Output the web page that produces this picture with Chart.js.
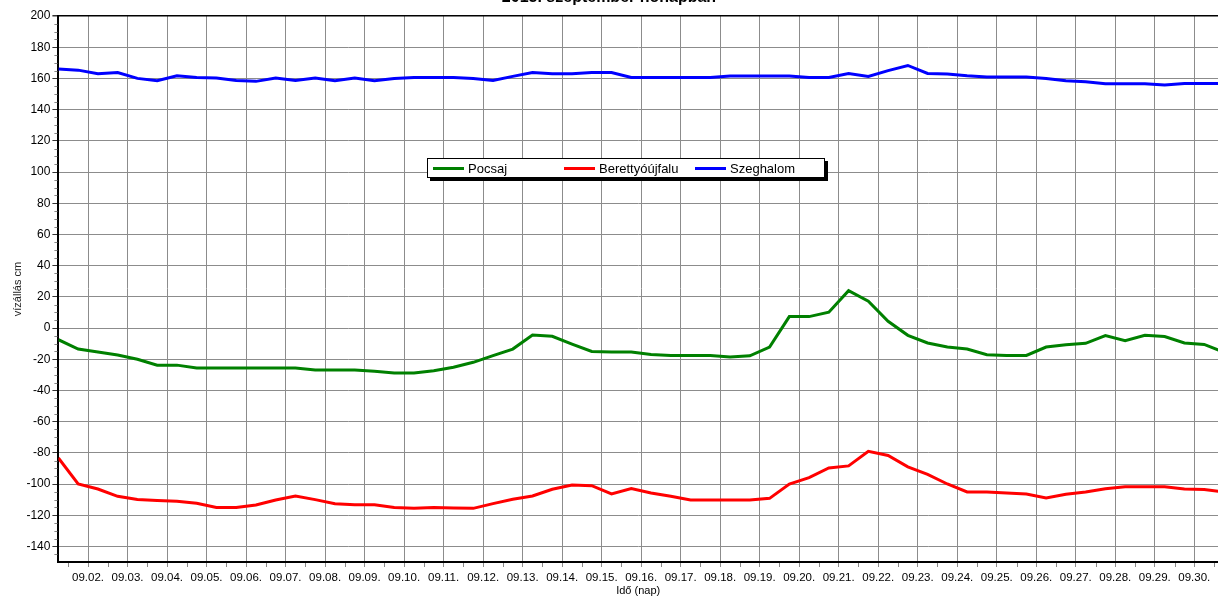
<!DOCTYPE html>
<html><head><meta charset="utf-8">
<script src="https://cdn.jsdelivr.net/npm/chart.js@4/dist/chart.umd.min.js"></script>
<style>
html,body{margin:0;padding:0;background:#fff;}
#wrap{position:relative;width:1218px;height:599px;overflow:hidden;}
#legend{position:absolute;left:427px;top:158px;width:396px;height:18px;border:1px solid #000;background:#fff;box-shadow:3px 3px 0 #000;font:13px "Liberation Sans",Arial,sans-serif;color:#000;display:flex;align-items:center;}
.item{width:131px;display:flex;align-items:center;white-space:nowrap;}
.swatch{width:31px;height:3px;margin-left:5px;margin-right:4px;}
</style></head>
<body>
<div id="wrap"><canvas id="c" width="1218" height="599"></canvas><div id="legend"></div></div>
<script>
// time of each reading, in days of September (06:00 and 18:00)
const times = [1.25,1.75,2.25,2.75,3.25,3.75,4.25,4.75,5.25,5.75,6.25,6.75,7.25,7.75,8.25,8.75,9.25,9.75,10.25,10.75,
  11.25,11.75,12.25,12.75,13.25,13.75,14.25,14.75,15.25,15.75,16.25,16.75,17.25,17.75,18.25,18.75,19.25,19.75,20.25,20.75,
  21.25,21.75,22.25,22.75,23.25,23.75,24.25,24.75,25.25,25.75,26.25,26.75,27.25,27.75,28.25,28.75,29.25,29.75,30.25,30.75];

const pocsaj = [-7.5,-13.5,-15.4,-17.3,-20,-23.8,-23.8,-25.6,-25.6,-25.6,-25.6,-25.6,-25.6,-26.9,-26.9,-27,-27.8,-28.8,-28.8,-27.4,
  -25.2,-22,-17.7,-13.5,-4.5,-5.3,-10.3,-15,-15.4,-15.4,-17,-17.6,-17.6,-17.6,-18.6,-17.8,-12.2,7.3,7.3,10.1,
  23.9,17.2,4.3,-4.7,-9.6,-12.2,-13.5,-17.1,-17.6,-17.6,-12.2,-10.7,-9.8,-4.9,-8.1,-4.7,-5.5,-9.6,-10.5,-15.5];

const berettyoujfalu = [-83.3,-100,-103.2,-107.9,-110,-110.5,-111.1,-112.4,-115,-115,-113.5,-110.3,-107.7,-110,-112.6,-113.3,-113.3,-115,-115.6,-115,
  -115.4,-115.6,-112.6,-109.8,-107.7,-103.4,-100.7,-101.1,-106.4,-102.9,-105.8,-107.9,-110.3,-110.3,-110.3,-110.3,-109.2,-100,-95.9,-89.7,
  -88.4,-79,-81.7,-89,-93.8,-100,-105.1,-105.1,-105.8,-106.4,-109,-106.6,-105.1,-103,-101.7,-101.7,-101.7,-103.2,-103.6,-105];

const szeghalom = [166,165.3,163,163.8,160,158.5,161.7,160.6,160.2,158.7,158.1,160.2,158.7,160.2,158.5,160.2,158.5,160,160.6,160.6,
  160.6,160,158.7,161.3,163.8,163,163,163.8,163.8,160.6,160.6,160.6,160.6,160.6,161.5,161.5,161.5,161.5,160.6,160.6,
  163.2,161.3,165,168.3,163.2,162.8,161.7,160.9,160.9,160.9,160,158.5,157.9,156.6,156.6,156.6,155.7,156.8,156.8,156.8];

const seriesNames = ['Pocsaj','Berettyóújfalu','Szeghalom'];
const seriesColors = ['#008000','#ff0000','#0000ff'];

const xTickDays = [2,3,4,5,6,7,8,9,10,11,12,13,14,15,16,17,18,19,20,21,22,23,24,25,26,27,28,29,30];
const xTickLabels = ['09.02.','09.03.','09.04.','09.05.','09.06.','09.07.','09.08.','09.09.','09.10.','09.11.','09.12.','09.13.','09.14.','09.15.',
  '09.16.','09.17.','09.18.','09.19.','09.20.','09.21.','09.22.','09.23.','09.24.','09.25.','09.26.','09.27.','09.28.','09.29.','09.30.'];
const yTicks = [-140,-120,-100,-80,-60,-40,-20,0,20,40,60,80,100,120,140,160,180,200];

const titleText = '2015. szeptember hónapban';
const xTitle = 'Idő (nap)';
const yTitle = 'vízállás cm';

const FONT = '"Liberation Sans", Arial, sans-serif';
const allSeries = [pocsaj, berettyoujfalu, szeghalom];

const minorTicks = {
  id: 'minorTicks',
  afterDraw(chart) {
    const {ctx, chartArea: a, scales: {x, y}} = chart;
    ctx.save();
    ctx.strokeStyle = '#888';
    ctx.lineWidth = 1;
    ctx.beginPath();
    for (let v = -145; v < 200; v += 5) {
      if (v % 20 === 0) continue;
      const py = Math.round(y.getPixelForValue(v)) + 0.5;
      ctx.moveTo(a.left - 4, py); ctx.lineTo(a.left - 1, py);
    }
    for (let d = 1.5; d <= 30.5; d += 1) {
      const px = Math.round(x.getPixelForValue(d)) + 0.5;
      ctx.moveTo(px, a.bottom + 1); ctx.lineTo(px, a.bottom + 5);
    }
    ctx.stroke();
    ctx.restore();
  }
};

const chart = new Chart(document.getElementById('c').getContext('2d'), {
  type: 'line',
  data: {
    datasets: allSeries.map((s, i) => ({
      label: seriesNames[i],
      data: times.map((t, k) => ({x: t, y: s[k]})),
      borderColor: seriesColors[i],
      backgroundColor: seriesColors[i],
      borderWidth: 3,
      pointRadius: 0,
      tension: 0,
      fill: false
    }))
  },
  options: {
    responsive: false,
    animation: false,
    devicePixelRatio: 1,
    layout: {padding: 0},
    plugins: {
      legend: {display: false},
      tooltip: {enabled: false},
      title: {
        display: true, text: titleText, color: '#000',
        font: {family: FONT, size: 16, weight: 'bold'},
        padding: {top: -12, bottom: 8.8}
      }
    },
    scales: {
      x: {
        type: 'linear', min: 1.25, max: 30.6,
        afterBuildTicks: s => { s.ticks = xTickDays.map(v => ({value: v})); },
        afterFit: s => { s.height = 37; },
        ticks: {
          autoSkip: false, maxRotation: 0, color: '#000', padding: 4,
          font: {family: FONT, size: 11.5},
          callback: (v, i) => xTickLabels[i]
        },
        grid: {color: '#8c8c8c', lineWidth: 1, tickLength: 5, tickColor: '#8c8c8c'},
        border: {color: '#000', width: 2},
        title: {display: true, text: xTitle, color: '#000', font: {family: FONT, size: 11}, padding: {top: 0, bottom: 1.4}}
      },
      y: {
        min: -150, max: 200,
        afterBuildTicks: s => { s.ticks = yTicks.map(v => ({value: v})); },
        afterFit: s => { s.width = 58.4; },
        ticks: {autoSkip: false, color: '#000', padding: 2, font: {family: FONT, size: 12}},
        grid: {
          color: c => (c.tick && c.tick.value === 200) ? '#000' : '#8c8c8c',
          lineWidth: c => (c.tick && c.tick.value === 200) ? 1.5 : 1,
          tickLength: 6, tickColor: '#333'
        },
        border: {color: '#000', width: 2},
        title: {display: true, text: yTitle, color: '#222', font: {family: FONT, size: 11}, padding: {top: 11, bottom: 0}}
      }
    }
  },
  plugins: [minorTicks]
});

// HTML legend built from the chart's datasets
const leg = document.getElementById('legend');
chart.data.datasets.forEach(ds => {
  const it = document.createElement('div'); it.className = 'item';
  const sw = document.createElement('span'); sw.className = 'swatch'; sw.style.background = ds.borderColor;
  const tx = document.createElement('span'); tx.textContent = ds.label;
  it.appendChild(sw); it.appendChild(tx); leg.appendChild(it);
});
</script>
</body></html>
